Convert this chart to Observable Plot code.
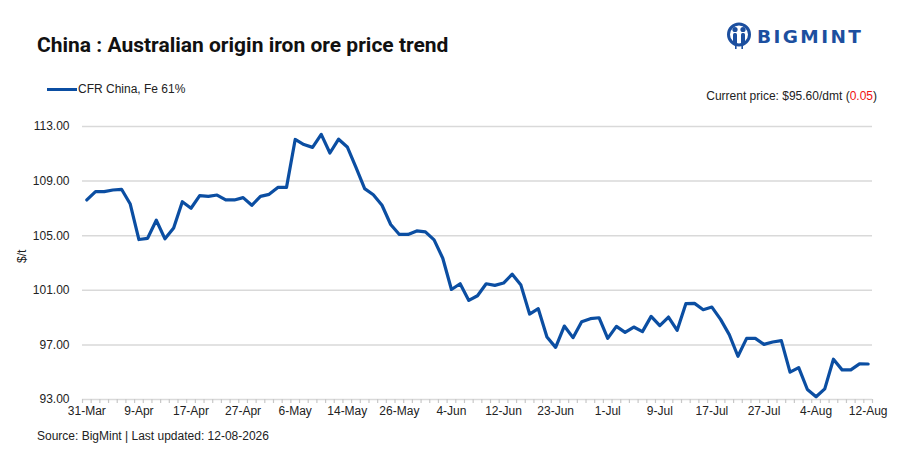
<!DOCTYPE html>
<html>
<head>
<meta charset="utf-8">
<script src="https://cdn.jsdelivr.net/npm/d3@7"></script>
<script src="https://cdn.jsdelivr.net/npm/@observablehq/plot@0.6"></script>
<style>
  html, body { margin: 0; padding: 0; background: #fff; }
  body { width: 911px; height: 453px; position: relative; font-family: "Liberation Sans", Arial, sans-serif; color: #1a1a1a; overflow: hidden; }
  #header { position: relative; height: 110px; }
  #title { position: absolute; left: 37px; top: 33px; font-family: Roboto, "Liberation Sans", sans-serif; font-weight: 700; font-size: 21px; color: #111; }
  #logo { position: absolute; left: 726px; top: 22px; display: flex; align-items: center; }
  #logo span { font-family: "DejaVu Sans", sans-serif; font-weight: 700; font-size: 18.5px; letter-spacing: 2.4px; color: #1c4f9f; margin-left: 5px; }
  #legend { position: absolute; left: 47px; top: 82px; display: flex; align-items: center; font-size: 12px; color: #222; }
  #legend i { display: inline-block; width: 30px; height: 3px; background: #0b4ea2; margin-right: 1px; }
  #price { position: absolute; right: 34px; top: 89px; font-size: 12px; color: #222; }
  #price b { font-weight: 400; color: #f01010; }
  #chart { position: absolute; left: 0; top: 110px; }
  #caption { position: absolute; left: 37px; top: 429px; font-size: 12px; color: #222; }
</style>
</head>
<body>
<div id="header">
  <div id="title">China : Australian origin iron ore price trend</div>
  <div id="logo">
    <svg width="26" height="28" viewBox="0 0 26 28">
      <circle cx="13" cy="12.5" r="10.5" fill="none" stroke="#1c4f9f" stroke-width="3"/>
      <circle cx="9" cy="7.5" r="2.6" fill="#1c4f9f"/>
      <circle cx="17" cy="7.5" r="2.6" fill="#1c4f9f"/>
      <rect x="7" y="11" width="4" height="11" rx="1.5" fill="#1c4f9f"/>
      <rect x="15" y="11" width="4" height="11" rx="1.5" fill="#1c4f9f"/>
      <rect x="9" y="23" width="1.6" height="4" fill="#1c4f9f"/>
      <rect x="15.4" y="23" width="1.6" height="4" fill="#1c4f9f"/>
    </svg>
    <span>BIGMINT</span>
  </div>
  <div id="legend"><i></i>CFR China, Fe 61%</div>
  <div id="price">Current price: $95.60/dmt (<b>0.05</b>)</div>
</div>
<div id="chart"></div>
<div id="caption">Source: BigMint | Last updated: 12-08-2026</div>
<script>
const seriesName = "CFR China, Fe 61%";
const prices = [
  107.62, 108.23, 108.23, 108.35, 108.40, 107.32, 104.72, 104.81, 106.13, 104.77,
  105.57, 107.49, 107.01, 107.93, 107.88, 107.98, 107.62, 107.62, 107.79, 107.23,
  107.88, 108.03, 108.54, 108.54, 112.05, 111.68, 111.47, 112.42, 111.06, 112.07,
  111.50, 110.00, 108.45, 108.00, 107.23, 105.82, 105.09, 105.09, 105.35, 105.28,
  104.69, 103.35, 101.06, 101.48, 100.26, 100.60, 101.48, 101.36, 101.53, 102.18,
  101.38, 99.26, 99.65, 97.58, 96.82, 98.38, 97.53, 98.70, 98.92, 98.99,
  97.48, 98.36, 97.92, 98.31, 97.97, 99.09, 98.41, 99.04, 98.07, 100.02,
  100.04, 99.58, 99.77, 98.87, 97.75, 96.17, 97.48, 97.48, 97.04, 97.21,
  97.31, 95.00, 95.34, 93.73, 93.20, 93.78, 95.95, 95.17, 95.17, 95.61,
  95.60
];
const tickLabels = ["31-Mar","9-Apr","17-Apr","27-Apr","6-May","14-May","26-May","4-Jun","12-Jun","23-Jun","1-Jul","9-Jul","17-Jul","27-Jul","4-Aug","12-Aug"];
const labelEvery = 6;
const yTicks = [93, 97, 101, 105, 109, 113];

const data = prices.map((v, i) => ({i, v}));
const n = prices.length;

const plot = Plot.plot({
  width: 911,
  height: 315,
  marginTop: 16,
  marginBottom: 26,
  marginLeft: 82,
  marginRight: 39,
  style: {fontFamily: "'Liberation Sans', Arial, sans-serif", fontSize: "12px", color: "#222", background: "transparent"},
  x: {domain: [-0.5, n - 0.5]},
  y: {domain: [93, 113]},
  marks: [
    Plot.gridY(yTicks, {stroke: "#d9d9d9", strokeOpacity: 1, strokeWidth: 1.5}),
    Plot.axisY(yTicks, {tickSize: 0, tickPadding: 13, tickFormat: d => d.toFixed(2), label: null, fill: "#222"}),
    Plot.axisX(d3.range(-0.5, n, 1), {tickSize: 4, stroke: "#c8c8c8", strokeWidth: 1.2, tickFormat: () => "", label: null}),
    Plot.axisX(d3.range(0, n, labelEvery), {tickSize: 0, tickPadding: 7, tickFormat: d => tickLabels[d / labelEvery], label: null, fill: "#222"}),
    Plot.text(["$/t"], {frameAnchor: "left", dx: -60, rotate: -90, fill: "#222", fontSize: 12}),
    Plot.line(data, {x: "i", y: "v", stroke: "#0b4ea2", strokeWidth: 3.2, strokeLinejoin: "round"})
  ]
});
document.getElementById("chart").appendChild(plot);
</script>
</body>
</html>
